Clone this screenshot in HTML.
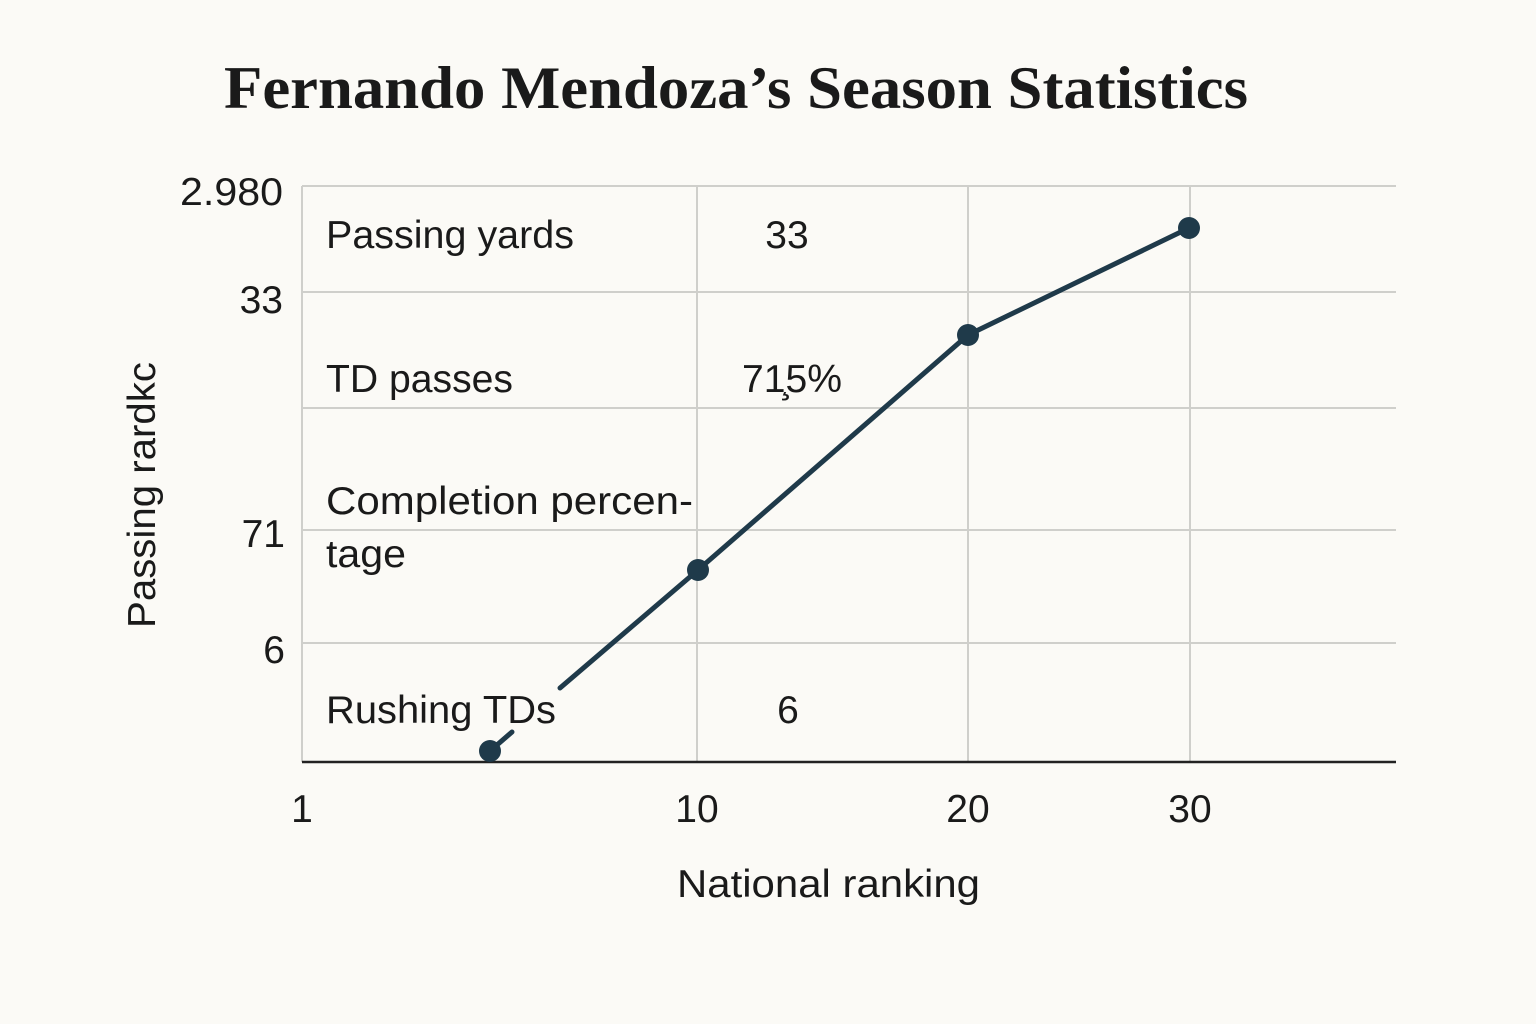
<!DOCTYPE html>
<html><head><meta charset="utf-8"><style>
html,body{margin:0;padding:0;background:#fbfaf6;}
svg{display:block}
</style></head><body>
<svg width="1536" height="1024" viewBox="0 0 1536 1024" xmlns="http://www.w3.org/2000/svg">
<rect width="1536" height="1024" fill="#fbfaf6"/>
<text x="224" y="108" textLength="1024" lengthAdjust="spacingAndGlyphs" font-family="Liberation Serif, serif" font-size="60" font-weight="bold" fill="#1a1a1a">Fernando Mendoza’s Season Statistics</text>
<g stroke="#cfcfcb" stroke-width="2" fill="none">
<line x1="302" y1="186" x2="1396" y2="186"/>
<line x1="302" y1="292" x2="1396" y2="292"/>
<line x1="302" y1="408" x2="1396" y2="408"/>
<line x1="302" y1="530" x2="1396" y2="530"/>
<line x1="302" y1="643" x2="1396" y2="643"/>
<line x1="302" y1="186" x2="302" y2="762"/>
<line x1="697" y1="186" x2="697" y2="762"/>
<line x1="968" y1="186" x2="968" y2="762"/>
<line x1="1190" y1="186" x2="1190" y2="762"/>
</g>
<line x1="302" y1="762" x2="1396" y2="762" stroke="#222" stroke-width="2.5"/>
<g font-family="Liberation Sans, DejaVu Sans, sans-serif" font-size="39" fill="#1a1a1a">
<text x="180" y="205" textLength="103" lengthAdjust="spacingAndGlyphs">2.980</text>
<text x="283" y="313" text-anchor="end">33</text>
<text x="285" y="547" text-anchor="end">71</text>
<text x="285" y="663" text-anchor="end">6</text>
<text x="302" y="822" text-anchor="middle">1</text>
<text x="697" y="822" text-anchor="middle">10</text>
<text x="968" y="822" text-anchor="middle">20</text>
<text x="1190" y="822" text-anchor="middle">30</text>
<text x="677" y="897" textLength="303" lengthAdjust="spacingAndGlyphs">National ranking</text>
<text transform="translate(155,628) rotate(-90)" textLength="266" lengthAdjust="spacingAndGlyphs">Passing rardkc</text>
<text x="326" y="248" textLength="248" lengthAdjust="spacingAndGlyphs">Passing yards</text>
<text x="787" y="248" text-anchor="middle">33</text>
<text x="326" y="392" textLength="187" lengthAdjust="spacingAndGlyphs">TD passes</text>
<text x="742" y="392" textLength="100" lengthAdjust="spacingAndGlyphs">71̧5%</text>
<text x="326" y="514" textLength="367" lengthAdjust="spacingAndGlyphs">Completion percen-</text>
<text x="326" y="567" textLength="80" lengthAdjust="spacingAndGlyphs">tage</text>
<text x="326" y="723" textLength="230" lengthAdjust="spacingAndGlyphs">Rushing TDs</text>
<text x="788" y="723" text-anchor="middle">6</text>
</g>
<g stroke="#1f3a4a" stroke-width="5" fill="none" stroke-linecap="round">
<line x1="490" y1="751" x2="512" y2="732"/>
<polyline points="560,688 698,570 968,335 1189,228"/>
</g>
<g fill="#1f3a4a">
<circle cx="490" cy="751" r="11"/>
<circle cx="698" cy="570" r="11"/>
<circle cx="968" cy="335" r="11"/>
<circle cx="1189" cy="228" r="11"/>
</g>
</svg>
</body></html>
